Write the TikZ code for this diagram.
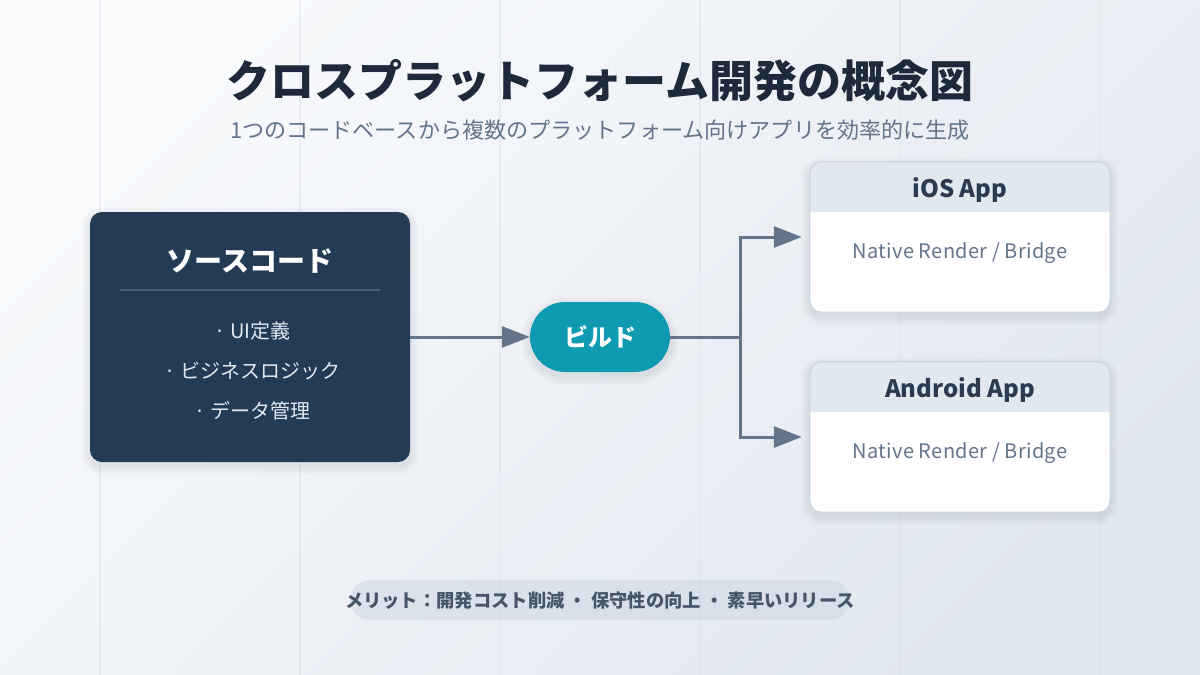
\documentclass[tikz,border=0pt]{standalone}
\usepackage{fontspec}
\setmainfont{Noto Sans CJK JP}
\usepackage{tikz}
\usetikzlibrary{arrows.meta, backgrounds, calc, positioning}

\definecolor{bgstart}{HTML}{F8FAFC}
\definecolor{bgend}{HTML}{E2E8F0}
\definecolor{gridline}{HTML}{CBD5E1}
\definecolor{titleink}{HTML}{1E293B}
\definecolor{mutedink}{HTML}{64748B}
\definecolor{navyfill}{HTML}{243B55}
\definecolor{navyrule}{HTML}{475D78}
\definecolor{tealfill}{HTML}{0E9AB0}
\definecolor{cardink}{HTML}{2D3B50}
\definecolor{pillink}{HTML}{475569}

\newcommand{\fsize}[1]{\fontsize{#1}{#1}\selectfont}
% layered soft shadow under a named node: name, corner radius
\newcommand{\softshadow}[2]{
  \begin{scope}[on background layer]
    \foreach \g in {1,...,9} {
      \fill[black, opacity=0.007, rounded corners={#2+\g*1pt}]
        ([xshift={-\g*1pt}, yshift={(\g-4)*1pt}]#1.north west) rectangle
        ([xshift={\g*1pt}, yshift={(-\g-4)*1pt}]#1.south east);
    };
  \end{scope}
}

\tikzset{
  sourcebox/.style={rectangle, rounded corners=12pt, fill=navyfill, minimum width=320pt, minimum height=250pt},
  buildpill/.style={rectangle, rounded corners=35pt, fill=tealfill, minimum width=140pt, minimum height=70pt},
  appcard/.style={rectangle, rounded corners=12pt, fill=white, minimum width=300pt, minimum height=150pt},
  cardedge/.style={draw=gridline, rounded corners=12pt, line width=1pt},
  sourceitem/.style={text=bgend, font=\fsize{20}},
  flow/.style={draw=mutedink, line width=3pt, -{Triangle[length=28pt,width=21pt]}},
}

\begin{document}
\begin{tikzpicture}[x=1pt, y=-1pt]
\useasboundingbox (0,0) rectangle (1200,675);

% background and faint vertical lines
\begin{scope}[on background layer]
\shade[left color=bgstart, right color=bgend, shading angle=45] (0,0) rectangle (1200,675);
\foreach \x in {100, 300, 500, 700, 900, 1100} {
    \draw[gridline, opacity=0.25, line width=2pt] (\x,0) -- (\x,675);
};
\end{scope}

\node[text=titleink, font=\bfseries\fsize{44}] (title) at (600,81) {クロスプラットフォーム開発の概念図};
\node[text=mutedink, font=\fsize{22.1}] (subtitle) at (600,130) {1つのコードベースから複数のプラットフォーム向けアプリを効率的に生成};

% source code block
\node[sourcebox] (source) at (250,337) {};
\softshadow{source}{12pt}
\node[text=white, font=\bfseries\fsize{28}] (source-title) at (250,261) {ソースコード};
\draw[navyrule, line width=2pt] ([xshift=30pt]source.west |- 0,290) coordinate (rule-l) -- ([xshift=-30pt]source.east |- 0,290) coordinate (rule-r);
\node[sourceitem] (item-ui) at (252.5,331) {· UI定義};
\node[sourceitem] (item-logic) at (252.5,371) {· ビジネスロジック};
\node[sourceitem] (item-data) at (252.5,411) {· データ管理};

\node[buildpill] (build) at (600,337) {};
\softshadow{build}{35pt}
\node[text=white, font=\bfseries\fsize{24}] (build-label) at (600,337) {ビルド};

% the two app cards
\foreach \name/\y/\label in {ios/237/iOS App, android/437/Android App} {
    \node[appcard] (\name) at (960,\y) {};
    \softshadow{\name}{12pt}
    \fill[bgend] (\name.west |- 0,\y-25) [rounded corners=12pt] -- (\name.north west) -- (\name.north east) [sharp corners] -- (\name.east |- 0,\y-25) -- cycle;
    \draw[cardedge] (\name.north west) rectangle (\name.south east);
    \node[text=cardink, font=\bfseries\fsize{24}] (\name-title) at (960,\y-47) {\label};
    \node[text=mutedink, font={\fsize{20}\addfontfeature{LetterSpace=1.5}}] (\name-text) at (960,\y+16) {Native Render / Bridge};
};

% connectors
\coordinate (fork) at (740,337);
\draw[flow] (source) -- (build);
\draw[flow, shorten >=8pt] (build) -- (fork) |- (ios);
\draw[flow, shorten >=8pt] (build) -- (fork) |- (android);

% merit line at the bottom
\node[rectangle, rounded corners=20pt, fill=gridline, fill opacity=0.5, minimum width=500pt, minimum height=40pt] (merit-pill) at (600,600) {};
\node[text=pillink, font=\bfseries\fsize{18.3}] (merit) at (600,601) {メリット：開発コスト削減 ・ 保守性の向上 ・ 素早いリリース};

\end{tikzpicture}
\end{document}
